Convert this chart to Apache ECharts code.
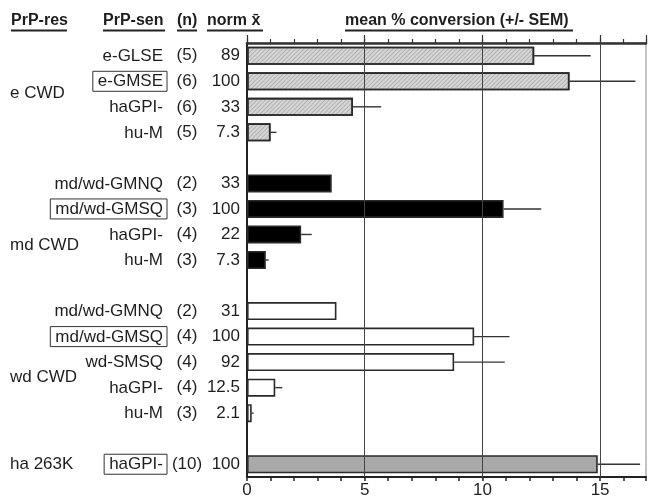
<!DOCTYPE html>
<html>
<head>
<meta charset="utf-8">
<script src="https://cdn.jsdelivr.net/npm/echarts@6/dist/echarts.min.js"></script>
<style>
html,body{margin:0;padding:0;background:#fff;}
#c{width:649px;height:499px;}
</style>
</head>
<body>
<div id="c"></div>
<script>
// ---- data ----
const groupNames = ['e CWD', 'md CWD', 'wd CWD', 'ha 263K'];

const eSen  = ['e-GLSE', 'e-GMSE', 'haGPI-', 'hu-M'];
const eN    = ['(5)', '(6)', '(6)', '(5)'];
const eNorm = ['89', '100', '33', '7.3'];
const eVal  = [12.2, 13.7, 4.5, 1.0];
const eErr  = [2.4, 2.8, 1.2, 0.25];
const eRef  = 'e-GMSE';

const mdSen  = ['md/wd-GMNQ', 'md/wd-GMSQ', 'haGPI-', 'hu-M'];
const mdN    = ['(2)', '(3)', '(4)', '(3)'];
const mdNorm = ['33', '100', '22', '7.3'];
const mdVal  = [3.6, 10.9, 2.3, 0.8];
const mdErr  = [0, 1.6, 0.45, 0.12];
const mdRef  = 'md/wd-GMSQ';

const wdSen  = ['md/wd-GMNQ', 'md/wd-GMSQ', 'wd-SMSQ', 'haGPI-', 'hu-M'];
const wdN    = ['(2)', '(4)', '(4)', '(4)', '(3)'];
const wdNorm = ['31', '100', '92', '12.5', '2.1'];
const wdVal  = [3.8, 9.65, 8.8, 1.2, 0.2];
const wdErr  = [0, 1.5, 2.15, 0.3, 0.08];
const wdRef  = 'md/wd-GMSQ';

const haSen  = ['haGPI-'];
const haN    = ['(10)'];
const haNorm = ['100'];
const haVal  = [14.9];
const haErr  = [1.8];
const haRef  = 'haGPI-';

const xTickLabels = [0, 5, 10, 15];
const gridLines = [5, 10, 15];
const axisMin = 0, axisMax = 16.95;

// ---- build slots ----
const groups = [
  {sen: eSen, n: eN, norm: eNorm, val: eVal, err: eErr, ref: eRef},
  {sen: mdSen, n: mdN, norm: mdNorm, val: mdVal, err: mdErr, ref: mdRef},
  {sen: wdSen, n: wdN, norm: wdNorm, val: wdVal, err: wdErr, ref: wdRef},
  {sen: haSen, n: haN, norm: haNorm, val: haVal, err: haErr, ref: haRef}
];
const senCol = [], nCol = [], normCol = [], boxed = [];
const seriesData = groups.map(() => []);
const errData = [];
groups.forEach((g, gi) => {
  if (gi > 0) {
    senCol.push(''); nCol.push(''); normCol.push(''); boxed.push(false);
    seriesData.forEach(s => s.push(null));
  }
  g.sen.forEach((s, i) => {
    const slot = senCol.length;
    senCol.push(s); nCol.push(g.n[i]); normCol.push(g.norm[i]);
    boxed.push(s === g.ref);
    seriesData.forEach((sd, k) => sd.push(k === gi ? g.val[i] : null));
    if (g.err[i] > 0) errData.push([g.val[i], g.err[i], slot]);
  });
});
const slots = senCol.map((_, i) => 'r' + i);

// ---- styling ----
const FONT = "'Liberation Sans', Arial, sans-serif";
const TXT = '#1e1e1e';
const groupFill = ['#d6d6d6', '#000000', '#ffffff', '#a9a9a9'];
const hatch = {symbol: 'rect', symbolSize: 1, dashArrayX: [1, 0], dashArrayY: [1, 1.6],
  rotation: -Math.PI / 4, color: 'rgba(110,110,110,0.35)'};

const chart = echarts.init(document.getElementById('c'), null, {renderer: 'canvas'});

const barSeries = seriesData.map((d, gi) => ({
  type: 'bar', data: d, xAxisIndex: 0, yAxisIndex: 0,
  barWidth: 18, barGap: '-100%', silent: true, animation: false,
  itemStyle: Object.assign({color: groupFill[gi], borderColor: '#2a2a2a', borderWidth: 1.6},
    gi === 0 ? {decal: hatch} : {}),
  markLine: gi === 0 ? {
    silent: true, symbol: 'none', label: {show: false},
    lineStyle: {color: '#444', width: 1, type: 'solid'},
    data: gridLines.map(v => ({xAxis: v}))
  } : undefined,
  z: 3
}));

const labelAxis = (col, margin, align, withBox) => ({
  type: 'category', data: slots, inverse: true, position: 'left', gridIndex: 0,
  axisLine: {show: false}, axisTick: {show: false}, splitLine: {show: false},
  axisLabel: {
    interval: 0, margin: margin, align: align,
    fontFamily: FONT, fontSize: 17, color: TXT,
    formatter: (v, i) => withBox ? (boxed[i] ? '{box|' + col[i] + '}' : '{pl|' + col[i] + '}') : col[i],
    rich: withBox ? {
      box: {fontFamily: FONT, fontSize: 17, color: TXT, borderColor: '#333', borderWidth: 1, padding: [2, 4, 1, 5]},
      pl: {fontFamily: FONT, fontSize: 17, color: TXT, padding: [2, 4, 1, 5]}
    } : undefined
  }
});

const option = {
  animation: false,
  backgroundColor: '#fff',
  grid: {left: 247, right: 0, top: 43, bottom: 18, show: true, borderColor: '#888', borderWidth: 1, containLabel: false},
  xAxis: [
    {type: 'value', min: axisMin, max: axisMax, interval: 1, position: 'bottom',
     axisLine: {show: true, lineStyle: {color: '#222', width: 2}},
     axisTick: {show: true, length: 4, inside: false, lineStyle: {color: '#222', width: 1.5}},
     splitLine: {show: false},
     axisLabel: {margin: 5, fontFamily: FONT, fontSize: 17, color: TXT,
       formatter: v => xTickLabels.indexOf(v) >= 0 ? String(v) : ''}},
    {type: 'value', min: axisMin, max: axisMax, interval: 1, position: 'top',
     axisLine: {show: true, lineStyle: {color: '#333', width: 2.5}},
     axisTick: {show: true, length: 4, inside: false, lineStyle: {color: '#333', width: 1.2}},
     splitLine: {show: false}, axisLabel: {show: false}},
    {type: 'value', min: axisMin, max: axisMax, interval: 5, position: 'top',
     axisLine: {show: false},
     axisTick: {show: true, length: 8, inside: false, lineStyle: {color: '#333', width: 1.2}},
     splitLine: {show: false}, axisLabel: {show: false}}
  ],
  yAxis: [
    Object.assign(labelAxis(senCol, 80, 'right', true),
      {axisLine: {show: true, lineStyle: {color: '#222', width: 2}}}),
    labelAxis(nCol, 60, 'center', false),
    labelAxis(normCol, 7, 'right', false)
  ],
  series: barSeries.concat([{
    type: 'custom', xAxisIndex: 0, yAxisIndex: 0, silent: true, z: 2,
    data: errData,
    renderItem: (params, api) => {
      const v = api.value(0), e = api.value(1), s = api.value(2);
      const p0 = api.coord([v, s]);
      const p1 = api.coord([v + e, s]);
      return {type: 'line', shape: {x1: p0[0], y1: p0[1], x2: p1[0], y2: p1[1]},
        style: {stroke: '#333', lineWidth: 1.4}};
    }
  }])
};
chart.setOption(option);

// ---- header & group labels (text) ----
const y0 = chart.convertToPixel({yAxisIndex: 0}, 'r0');
const y1 = chart.convertToPixel({yAxisIndex: 0}, 'r1');
const step = y1 - y0;
const groupSlot = [1.48, 7.44, 12.58, 16];
const headers = [
  {t: 'PrP-res', x: 11, w: 56},
  {t: 'PrP-sen', x: 103, w: 62},
  {t: '(n)', x: 177, w: 20},
  {t: 'norm x\u0304', x: 207, w: 56},
  {t: 'mean % conversion (+/- SEM)', x: 345, w: 228}
];
const graphics = [];
headers.forEach(h => {
  graphics.push({type: 'text', left: h.x, top: 13,
    style: {text: h.t, font: 'bold 16px ' + FONT, fill: TXT}});
  graphics.push({type: 'line', shape: {x1: h.x, y1: 30.5, x2: h.x + h.w, y2: 30.5},
    style: {stroke: '#222', lineWidth: 2}});
});
groupNames.forEach((g, i) => {
  graphics.push({type: 'text', x: 10, y: y0 + step * groupSlot[i],
    style: {text: g, font: '17px ' + FONT, fill: TXT, textVerticalAlign: 'middle', verticalAlign: 'middle'}});
});
chart.setOption({graphic: graphics});
</script>
</body>
</html>
